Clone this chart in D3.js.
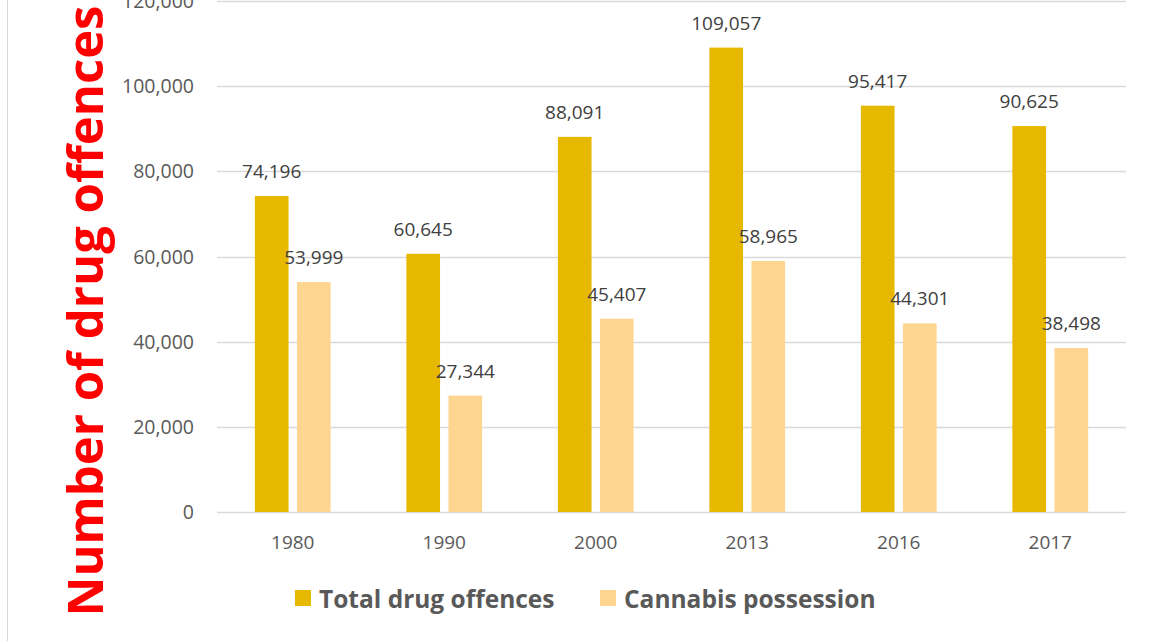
<!DOCTYPE html>
<html>
<head>
<meta charset="utf-8">
<script src="https://cdn.jsdelivr.net/npm/d3@7"></script>
<style>
  body { margin: 0; background: #fff; }
  svg { display: block; font-family: "Open Sans", sans-serif; }
</style>
</head>
<body>
<div class="js-chart"></div>
<script>
const years = ['1980', '1990', '2000', '2013', '2016', '2017'];
const seriesNames = ['Total drug offences', 'Cannabis possession'];
const totalOffences = [74196, 60645, 88091, 109057, 95417, 90625];
const cannabisPossession = [53999, 27344, 45407, 58965, 44301, 38498];
const yTicks = [0, 20000, 40000, 60000, 80000, 100000, 120000];
const seriesColors = ['#e6b800', '#ffd592'];

const width = 1151;
const height = 641;
const margin = { top: 1, right: 25, bottom: 129, left: 217 };

const svg = d3.select('.js-chart')
  .append('svg')
  .attr('width', width)
  .attr('height', height);

// thin frame line on the left edge
svg.append('line')
  .attr('x1', 7.5).attr('x2', 7.5)
  .attr('y1', 0).attr('y2', height)
  .attr('stroke', '#d9d9d9');

const x = d3.scaleBand()
  .domain(years)
  .range([margin.left, width - margin.right])
  .paddingInner(0.5)
  .paddingOuter(0.25);

const xInner = d3.scaleBand()
  .domain(seriesNames)
  .range([0, x.bandwidth()])
  .paddingInner(0.2);

const y = d3.scaleLinear()
  .domain([0, 120000])
  .range([height - margin.bottom, margin.top]);

const fmt = d3.format(',');

// gridlines
svg.append('g')
  .selectAll('line')
  .data(yTicks)
  .enter()
  .append('line')
  .attr('x1', margin.left)
  .attr('x2', width - margin.right)
  .attr('y1', d => Math.round(y(d)) + 0.5)
  .attr('y2', d => Math.round(y(d)) + 0.5)
  .attr('stroke', '#d9d9d9')
  .attr('stroke-width', 1.5);

// y tick labels
svg.append('g')
  .selectAll('text')
  .data(yTicks)
  .enter()
  .append('text')
  .attr('x', 194)
  .attr('y', d => y(d) + 7)
  .attr('text-anchor', 'end')
  .attr('fill', '#595959')
  .attr('font-size', 19.5)
  .text(d => fmt(d));

// x tick labels
svg.append('g')
  .selectAll('text')
  .data(years)
  .enter()
  .append('text')
  .attr('x', d => x(d) + x.bandwidth() / 2)
  .attr('y', y(0) + 37)
  .attr('text-anchor', 'middle')
  .attr('fill', '#595959')
  .attr('font-size', 19)
  .text(d => d);

const rows = years.map((yr, i) => ({
  year: yr,
  values: [totalOffences[i], cannabisPossession[i]]
}));

const groups = svg.append('g')
  .selectAll('g')
  .data(rows)
  .enter()
  .append('g')
  .attr('transform', d => `translate(${x(d.year)},0)`);

const cells = groups.selectAll('g')
  .data(d => d.values.map((v, j) => ({ name: seriesNames[j], value: v, idx: j })))
  .enter()
  .append('g');

cells.append('rect')
  .attr('x', d => xInner(d.name))
  .attr('width', xInner.bandwidth())
  .attr('y', d => y(d.value))
  .attr('height', d => y(0) - y(d.value))
  .attr('fill', d => seriesColors[d.idx]);

cells.append('text')
  .attr('x', d => xInner(d.name) + xInner.bandwidth() / 2)
  .attr('y', d => y(d.value) - 18)
  .attr('text-anchor', 'middle')
  .attr('fill', '#404040')
  .attr('font-size', 19)
  .text(d => fmt(d.value));

// legend
const legendX = [295, 600];
const legend = svg.append('g')
  .selectAll('g')
  .data(seriesNames)
  .enter()
  .append('g')
  .attr('transform', (d, i) => `translate(${legendX[i]},590)`);

legend.append('rect')
  .attr('width', 16)
  .attr('height', 16)
  .attr('fill', (d, i) => seriesColors[i]);

legend.append('text')
  .attr('x', 24)
  .attr('y', 18)
  .attr('fill', '#595959')
  .attr('font-size', 24.5)
  .attr('font-weight', 'bold')
  .text(d => d);

// y axis title
svg.append('text')
  .attr('transform', 'translate(103,311)rotate(-90)')
  .attr('text-anchor', 'middle')
  .attr('fill', '#ff0000')
  .attr('font-size', 49)
  .attr('font-weight', 'bold')
  .text('Number of drug offences');
</script>
</body>
</html>
